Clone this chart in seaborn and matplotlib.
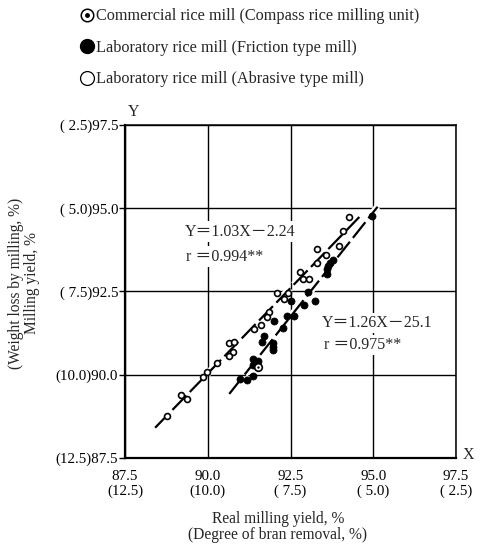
import numpy as np
import pandas as pd
import matplotlib
matplotlib.use("Agg")
import matplotlib.pyplot as plt
import matplotlib.patheffects as pe
from matplotlib.lines import Line2D
from matplotlib.legend_handler import HandlerTuple
import seaborn as sns

# ---- data ----
abrasive_x = [94.28, 94.08, 93.97, 93.29, 93.57, 93.29, 92.78, 92.87, 93.06, 92.10, 92.43, 92.31,
              91.86, 91.78, 91.60, 91.40, 90.64, 90.79, 90.76, 90.64, 90.27, 89.99, 89.87, 89.18,
              89.36, 88.76]
abrasive_y = [94.75, 94.31, 93.87, 93.77, 93.60, 93.37, 93.08, 92.88, 92.88, 92.46, 92.46, 92.28,
              91.88, 91.74, 91.48, 91.38, 90.94, 90.97, 90.68, 90.56, 90.34, 90.08, 89.92, 89.38,
              89.28, 88.77]
friction_x = [94.97, 93.77, 93.69, 93.64, 93.59, 93.59, 93.02, 92.51, 92.92, 93.25, 92.38, 92.61,
              92.00, 92.28, 91.70, 91.63, 91.98, 91.98, 91.98, 91.38, 91.53, 91.38, 91.36, 91.18,
              90.97]
friction_y = [94.77, 93.45, 93.35, 93.27, 93.17, 93.03, 92.49, 92.22, 92.09, 92.21, 91.77, 91.77,
              91.62, 91.39, 91.17, 90.99, 90.94, 90.84, 90.74, 90.46, 90.42, 90.29, 89.96, 89.84,
              89.86]
commercial_x = [91.53]
commercial_y = [90.24]

ticks = [87.5, 90.0, 92.5, 95.0, 97.5]
x_ticklabels = ["87.5\n(12.5)", "90.0\n(10.0)", "92.5\n( 7.5)", "95.0\n( 5.0)", "97.5\n( 2.5)"]
y_ticklabels = ["(12.5)87.5", "(10.0)90.0", "( 7.5)92.5", "( 5.0)95.0", "( 2.5)97.5"]
legend_labels = ["Commercial rice mill (Compass rice milling unit)",
                 "Laboratory rice mill (Friction type mill)",
                 "Laboratory rice mill (Abrasive type mill)"]
eq_upper = ["Y\uff1d1.03X\uff0d2.24", "r \uff1d0.994**"]
eq_lower = ["Y\uff1d1.26X\uff0d25.1", "r \uff1d0.975**"]

sns.set_theme(style="white")
plt.rcParams["font.family"] = ["Liberation Serif", "Noto Sans CJK JP", "DejaVu Sans"]
plt.rcParams["font.size"] = 10.5

fig = plt.figure(figsize=(4.81, 5.46), dpi=100)
ax = fig.add_axes([125 / 481, 1 - 458 / 546, 331 / 481, 333 / 546])

df_a = pd.DataFrame({"x": abrasive_x, "y": abrasive_y})
df_f = pd.DataFrame({"x": friction_x, "y": friction_y})
df_c = pd.DataFrame({"x": commercial_x, "y": commercial_y})

ax.set_xlim(87.5, 97.5)
ax.set_ylim(87.5, 97.5)
ax.set_xticks(ticks)
ax.set_yticks(ticks)
ax.set_xticklabels(x_ticklabels, linespacing=1.05)
ax.set_yticklabels(y_ticklabels)
ax.grid(True, color="black", linewidth=1.0)
ax.set_axisbelow(True)
for s in ["left", "bottom"]:
    ax.spines[s].set_linewidth(1.6)
for s in ["top", "right"]:
    ax.spines[s].set_linewidth(1.1)
for s in ax.spines.values():
    s.set_color("black")
ax.tick_params(axis="x", length=0, pad=9, labelsize=10.8, colors="black")
ax.tick_params(axis="y", length=4, width=1, pad=1, labelsize=10.8, colors="black", left=True)

# regression lines fitted from the data
dash_kw = dict(color="black", linewidth=1.6, linestyle=(0, (9, 2.2)),
               path_effects=[pe.Stroke(linewidth=5, foreground="white"), pe.Normal()], zorder=3)
pa = np.polyfit(abrasive_x, abrasive_y, 1)
xa = np.array([min(abrasive_x) - 0.35, max(abrasive_x) + 0.3])
ax.plot(xa, np.polyval(pa, xa), **dash_kw)
pf = np.polyfit(friction_x, friction_y, 1)
xf = np.array([min(friction_x) - 0.32, max(friction_x) + 0.16])
ax.plot(xf, np.polyval(pf, xf), **dash_kw)

sns.scatterplot(data=df_a, x="x", y="y", ax=ax, marker="o", s=18, facecolor="white",
                edgecolor="black", linewidth=1.2, zorder=4)
sns.scatterplot(data=df_f, x="x", y="y", ax=ax, marker="o", s=26, color="black",
                edgecolor="black", linewidth=0.5, zorder=4)
sns.scatterplot(data=df_c, x="x", y="y", ax=ax, marker="o", s=30, facecolor="white",
                edgecolor="black", linewidth=1.2, zorder=5)
sns.scatterplot(data=df_c, x="x", y="y", ax=ax, marker="o", s=3, color="black",
                linewidth=0, zorder=6)
ax.set_xlabel("")
ax.set_ylabel("")

# equations
box = dict(facecolor="white", edgecolor="none", pad=1.5)
eqfam = ["Liberation Serif", "Noto Sans CJK JP"]
ax.text(89.3, 94.3, eq_upper[0], fontsize=11.5, family=eqfam, ha="left", va="center",
        bbox=box, zorder=2)
ax.text(89.35, 93.55, eq_upper[1], fontsize=11.5, family=eqfam, ha="left", va="center",
        bbox=box, zorder=2)
ax.text(93.45, 91.55, eq_lower[0], fontsize=11.5, family=eqfam, ha="left", va="center",
        bbox=box, zorder=2)
ax.text(93.5, 90.9, eq_lower[1], fontsize=11.5, family=eqfam, ha="left", va="center",
        bbox=box, zorder=2)

# axis names
fig.text(128 / 481, 1 - 112 / 546, "Y", fontsize=11.5, ha="left", va="center")
fig.text(463 / 481, 1 - 455 / 546, "X", fontsize=11.5, ha="left", va="center")
fig.text(278 / 481, 1 - 527 / 546, "Real milling yield, %\n(Degree of bran removal, %)",
         fontsize=11.2, ha="center", va="center", linespacing=0.95)
fig.text(24 / 481, 1 - 283 / 546, "(Weight loss by milling, %)\nMilling yield, %",
         fontsize=11.2, ha="center", va="center", rotation=90, linespacing=1.05)

# legend
h_c = (Line2D([], [], marker="o", linestyle="none", markersize=9, markerfacecolor="white",
              markeredgecolor="black", markeredgewidth=1.1),
       Line2D([], [], marker="o", linestyle="none", markersize=2.5, color="black"))
h_f = Line2D([], [], marker="o", linestyle="none", markersize=10, color="black")
h_o = Line2D([], [], marker="o", linestyle="none", markersize=10, markerfacecolor="white",
             markeredgecolor="black", markeredgewidth=0.9)
fig.legend([h_c, h_f, h_o], legend_labels, loc="upper left",
           bbox_to_anchor=(72 / 481, 1 - 2 / 546), frameon=False, fontsize=11.7,
           handlelength=1.0, handletextpad=0.1, labelspacing=0.95, borderaxespad=0,
           handler_map={tuple: HandlerTuple(ndivide=1, pad=0)})

fig.savefig("out.png", dpi=100, facecolor="white")
